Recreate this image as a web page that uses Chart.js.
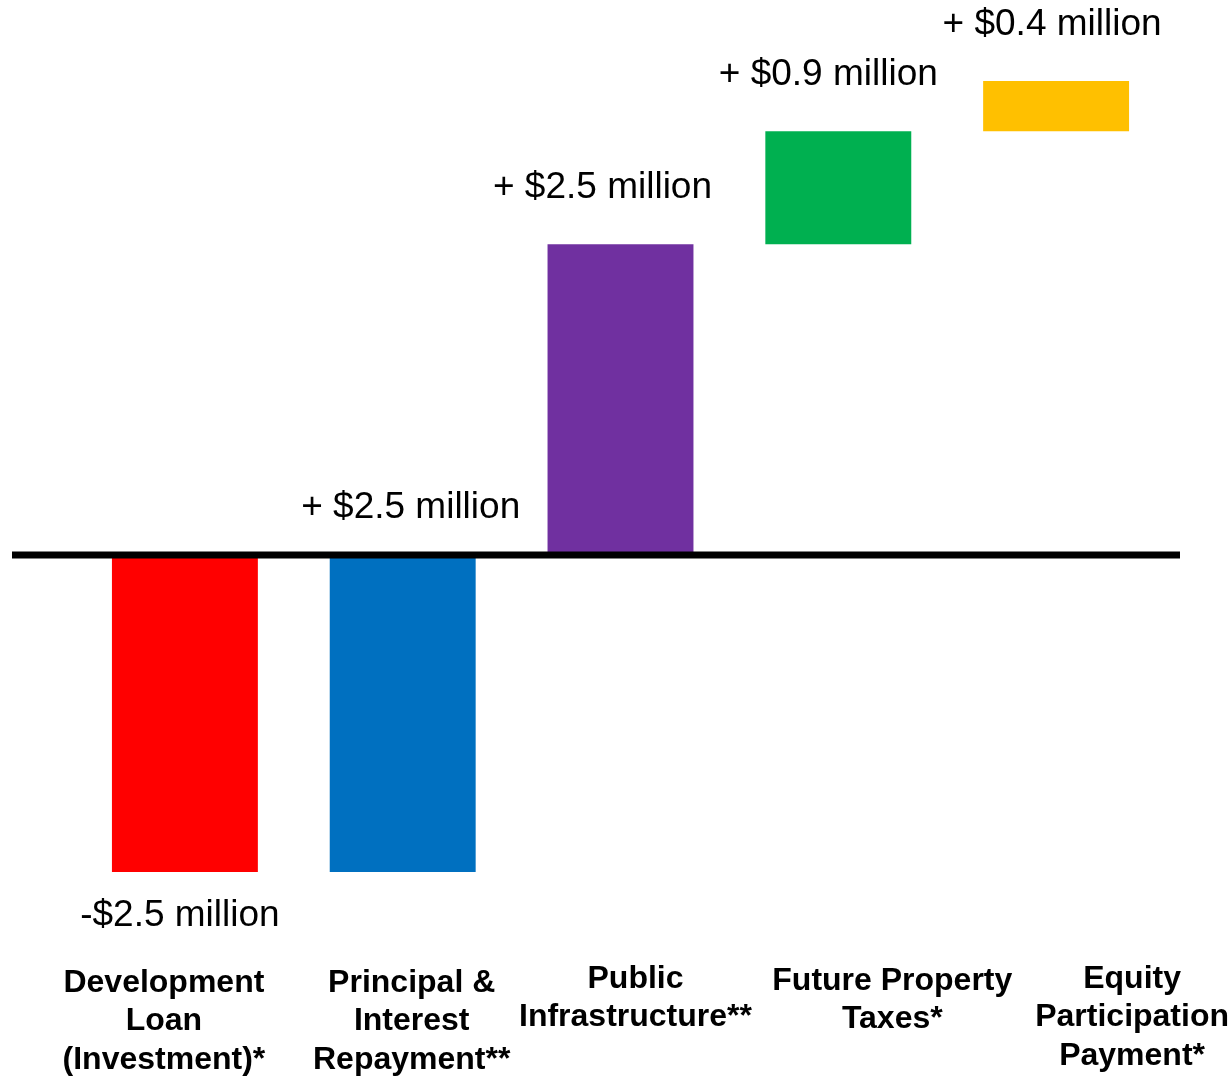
<!DOCTYPE html>
<html>
<head>
<meta charset="utf-8">
<script src="https://cdn.jsdelivr.net/npm/chart.js@4.4.0/dist/chart.umd.min.js"></script>
<style>
  html, body { margin: 0; padding: 0; background: #ffffff; }
  canvas { display: block; }
</style>
</head>
<body>
<canvas id="chart" width="1228" height="1076"></canvas>
<script>
// Waterfall of the development financing: each step in $ million
const categories = [
  ['Development', 'Loan', '(Investment)*'],
  ['Principal &', 'Interest', 'Repayment**'],
  ['Public', 'Infrastructure**'],
  ['Future Property', 'Taxes*'],
  ['Equity', 'Participation', 'Payment*']
];
const changes = [-2.5, 2.5, 2.5, 0.9, 0.4];
const barColors = ['#FF0000', '#0070C0', '#7030A0', '#00B050', '#FFC000'];

// Floating bars: each step starts where the running total left off
const floating = [];
let running = 0;
for (const c of changes) {
  floating.push([running, running + c]);
  running += c;
}

const changeText = v => (v < 0 ? '-$' : '+ $') + Math.abs(v).toFixed(1) + ' million';

// Per-column nudges for the text
const valueShiftX = [-5, 8, -18, -10, -4];
const valueShiftY = [3, 6, 0, 0, 0];
const categoryShiftX = [-21, 9, 15, 54, 76];
const categoryShiftY = [3, 3, -1, 1, -1];

const FONT = '"Liberation Sans", Arial, Helvetica, sans-serif';

const annotate = {
  id: 'annotate',
  afterDatasetsDraw(chart) {
    const { ctx, chartArea, scales: { x, y } } = chart;
    ctx.save();

    // Heavy zero line across the chart
    const y0 = y.getPixelForValue(0) - 3;
    ctx.strokeStyle = '#000000';
    ctx.lineWidth = 7;
    ctx.beginPath();
    ctx.moveTo(chartArea.left - 64, y0);
    ctx.lineTo(chartArea.right + 15, y0);
    ctx.stroke();

    // Value labels above (gains) or below (losses) each bar
    ctx.fillStyle = '#000000';
    ctx.font = '37px ' + FONT;
    ctx.textAlign = 'center';
    ctx.textBaseline = 'middle';
    changes.forEach((v, i) => {
      const [a, b] = floating[i];
      const cx = x.getPixelForValue(i) + valueShiftX[i];
      const ty = v < 0
        ? y.getPixelForValue(Math.min(a, b)) + 41
        : y.getPixelForValue(Math.max(a, b)) - 56;
      ctx.fillText(changeText(v), cx, ty + valueShiftY[i]);
    });

    // Category names under the chart
    ctx.font = 'bold 32px ' + FONT;
    const firstLine = chartArea.bottom + 108;
    const lineHeight = 38.5;
    categories.forEach((lines, i) => {
      const cx = x.getPixelForValue(i) + categoryShiftX[i];
      lines.forEach((t, j) =>
        ctx.fillText(t, cx, firstLine + categoryShiftY[i] + j * lineHeight));
    });

    ctx.restore();
  }
};

new Chart(document.getElementById('chart'), {
  type: 'bar',
  data: {
    labels: categories.map(l => l.join(' ')),
    datasets: [{
      data: floating,
      backgroundColor: barColors,
      borderWidth: 0,
      borderSkipped: false,
      barPercentage: 0.67,
      categoryPercentage: 1
    }]
  },
  options: {
    responsive: false,
    devicePixelRatio: 1,
    animation: false,
    layout: { padding: { left: 76, right: 63, top: 81, bottom: 204 } },
    plugins: { legend: { display: false }, tooltip: { enabled: false } },
    scales: {
      x: { display: false, grid: { display: false } },
      y: { display: false, min: -2.5, max: 3.8, grid: { display: false } }
    }
  },
  plugins: [annotate]
});
</script>
</body>
</html>
